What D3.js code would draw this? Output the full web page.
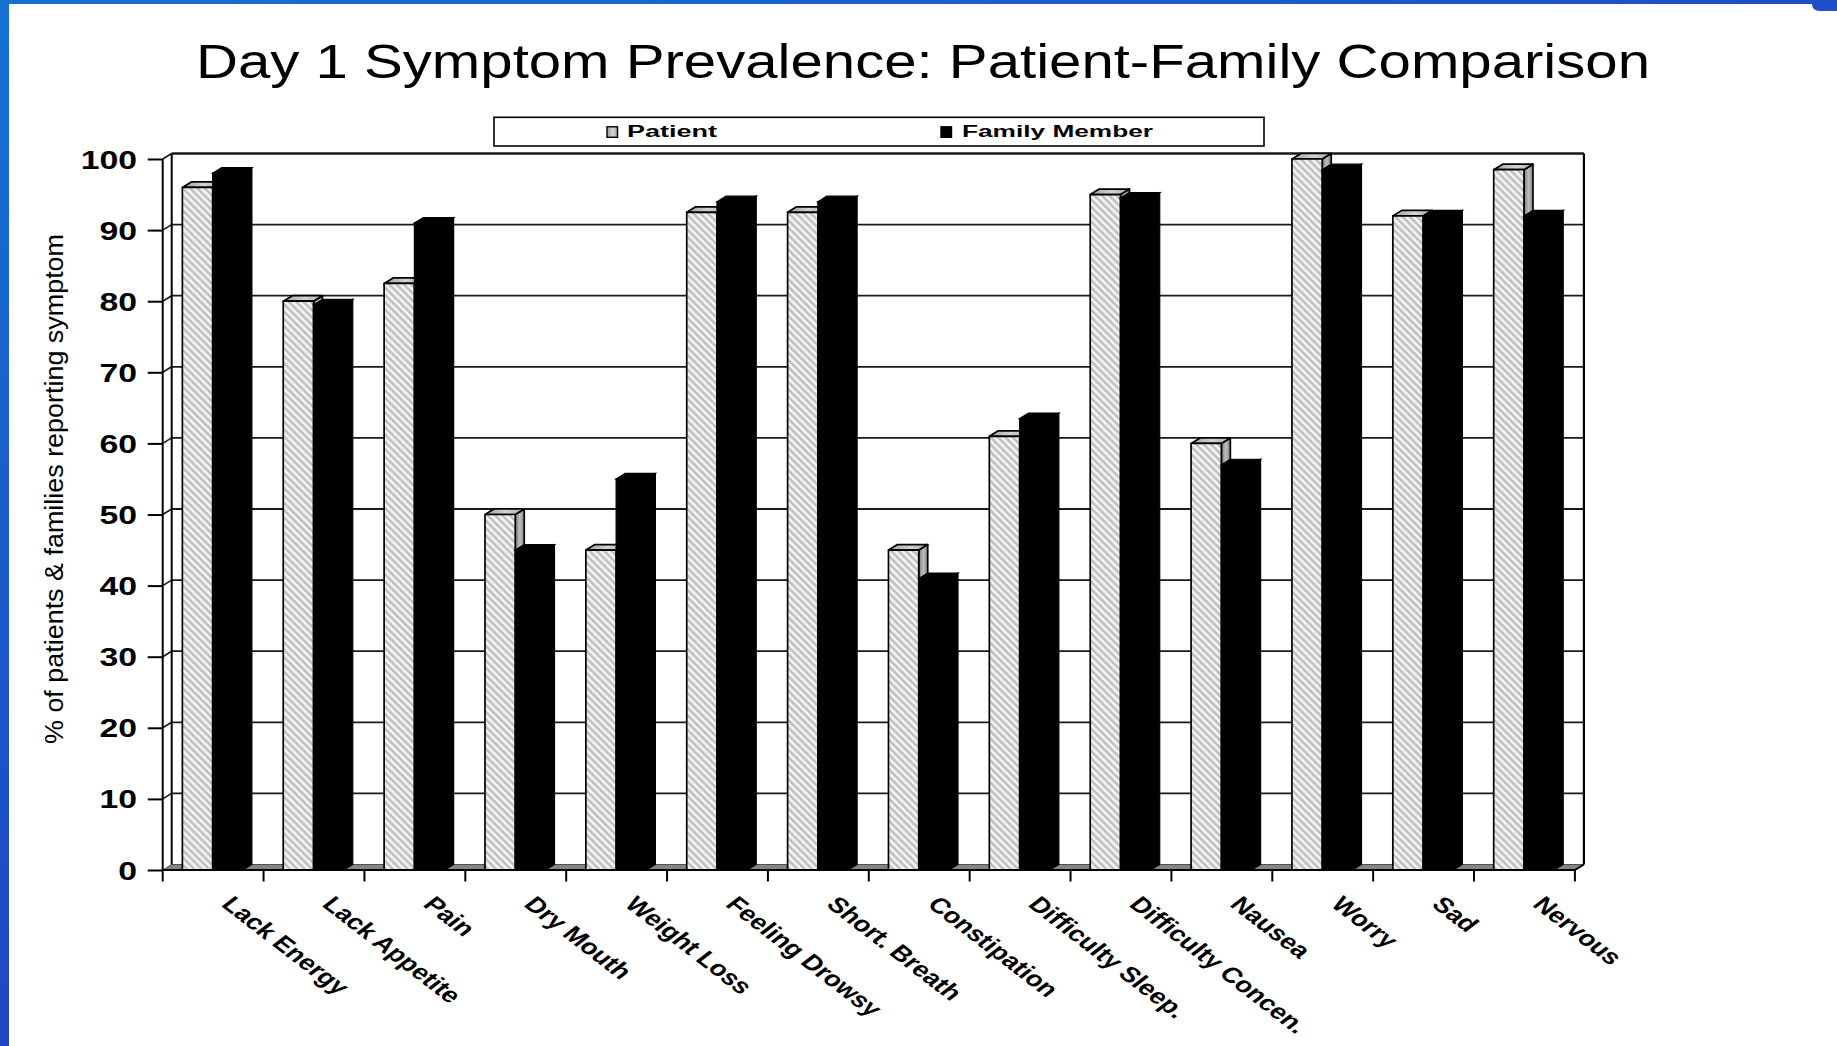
<!DOCTYPE html>
<html>
<head>
<meta charset="utf-8">
<script src="https://cdn.jsdelivr.net/npm/d3@7"></script>
<style>
  html, body { margin: 0; padding: 0; background: #ffffff; }
  svg { display: block; }
</style>
</head>
<body>
<svg id="chart" width="1837" height="1046"></svg>
<script>
// Symptom prevalence on day 1, patient vs. family member (% reporting)
const categories = ["Lack Energy", "Lack Appetite", "Pain", "Dry Mouth", "Weight Loss",
  "Feeling Drowsy", "Short. Breath", "Constipation", "Difficulty Sleep.",
  "Difficulty Concen.", "Nausea", "Worry", "Sad", "Nervous"];
const patientPct = [96, 80, 82.5, 50, 45, 92.5, 92.5, 45, 61, 95, 60, 100, 92, 98.5];
const familyPct  = [98, 79.5, 91, 45, 55, 94, 94, 41, 63.5, 94.5, 57, 98.5, 92, 92];
const yTicks = [0, 10, 20, 30, 40, 50, 60, 70, 80, 90, 100];
const seriesNames = ["Patient", "Family Member"];

const W = 1837, H = 1046;
const svg = d3.select("#chart");

// plot geometry (front plane) and the depth offset of the 3-D walls
const frontLeft = 162.7, frontRight = 1574.9;
const floorY = 870, topY = 159;
const dX = 9, dY = 5.5;

const x = d3.scaleBand().domain(categories).range([frontLeft, frontRight]).padding(0);
const y = d3.scaleLinear().domain([0, 100]).range([floorY, topY]);
const bw = x.bandwidth();
const barW = bw * 0.3;
const barOff = bw * 0.195;

// ---------- defs ----------
const defs = svg.append("defs");
const blueV = defs.append("linearGradient").attr("id", "blueV").attr("x1", 0).attr("y1", 0).attr("x2", 0).attr("y2", 1);
blueV.append("stop").attr("offset", "0%").attr("stop-color", "#1572d2");
blueV.append("stop").attr("offset", "100%").attr("stop-color", "#2046c6");
const blueH = defs.append("linearGradient").attr("id", "blueH").attr("x1", 0).attr("y1", 0).attr("x2", 1).attr("y2", 0);
blueH.append("stop").attr("offset", "0%").attr("stop-color", "#1572d2");
blueH.append("stop").attr("offset", "100%").attr("stop-color", "#1f4ec8");

const hatch = defs.append("pattern").attr("id", "hatch")
  .attr("patternUnits", "userSpaceOnUse").attr("width", 5.2).attr("height", 10)
  .attr("patternTransform", "rotate(-45)");
hatch.append("rect").attr("width", 5.2).attr("height", 10).attr("fill", "#f2f2f2");
hatch.append("rect").attr("width", 2.6).attr("height", 10).attr("fill", "#c2c2c2");

const topGrad = defs.append("linearGradient").attr("id", "topFace").attr("x1", 0).attr("y1", 0).attr("x2", 1).attr("y2", 0);
topGrad.append("stop").attr("offset", "0%").attr("stop-color", "#9c9c9c");
topGrad.append("stop").attr("offset", "55%").attr("stop-color", "#d4d4d4");
topGrad.append("stop").attr("offset", "100%").attr("stop-color", "#a8a8a8");
const sideGrad = defs.append("linearGradient").attr("id", "sideFace").attr("x1", 0).attr("y1", 0).attr("x2", 1).attr("y2", 0);
sideGrad.append("stop").attr("offset", "0%").attr("stop-color", "#7a7a7a");
sideGrad.append("stop").attr("offset", "50%").attr("stop-color", "#bdbdbd");
sideGrad.append("stop").attr("offset", "100%").attr("stop-color", "#858585");

// ---------- slide frame ----------
svg.append("rect").attr("x", 0).attr("y", 0).attr("width", W).attr("height", H).attr("fill", "#ffffff");
svg.append("rect").attr("x", 0).attr("y", 0).attr("width", 9).attr("height", H).attr("fill", "url(#blueV)");
svg.append("rect").attr("x", 0).attr("y", 0).attr("width", W).attr("height", 4).attr("fill", "url(#blueH)");
svg.append("path")
  .attr("d", `M1812,0 L${W},0 L${W},11 L1820,11 Q1812,11 1812,4 Z`)
  .attr("fill", "#1f4ec8");

// ---------- title ----------
svg.append("text")
  .attr("x", 196).attr("y", 77.5)
  .attr("font-family", "'Liberation Sans', Arial, sans-serif")
  .attr("font-size", 48)
  .attr("textLength", 1454).attr("lengthAdjust", "spacingAndGlyphs")
  .attr("fill", "#000")
  .text("Day 1 Symptom Prevalence: Patient-Family Comparison");

// ---------- legend ----------
const lg = svg.append("g");
lg.append("rect").attr("x", 494).attr("y", 117.3).attr("width", 770).attr("height", 28.7)
  .attr("fill", "#fff").attr("stroke", "#000").attr("stroke-width", 1.6);
const legendItems = [
  { name: seriesNames[0], sx: 607, tx: 627, len: 90, fill: "url(#topFace)" },
  { name: seriesNames[1], sx: 941, tx: 962, len: 191, fill: "#000" }
];
legendItems.forEach(d => {
  lg.append("rect").attr("x", d.sx).attr("y", 126.8).attr("width", 10.5).attr("height", 10.5)
    .attr("fill", d.fill).attr("stroke", "#000").attr("stroke-width", 1.4);
  lg.append("text").attr("x", d.tx).attr("y", 137.4)
    .attr("font-family", "'Liberation Sans', Arial, sans-serif")
    .attr("font-weight", "bold").attr("font-size", 16)
    .attr("textLength", d.len).attr("lengthAdjust", "spacingAndGlyphs")
    .text(d.name);
});

// ---------- walls and floor ----------
const plot = svg.append("g");
plot.append("rect")
  .attr("x", frontLeft + dX).attr("y", y(100) - dY)
  .attr("width", frontRight - frontLeft).attr("height", floorY - y(100))
  .attr("fill", "#fff");

// gridlines on the back wall plus their slanted continuation on the side wall
yTicks.filter(v => v > 0).forEach(v => {
  plot.append("line")
    .attr("x1", frontLeft + dX).attr("x2", frontRight + dX)
    .attr("y1", y(v) - dY).attr("y2", y(v) - dY)
    .attr("stroke", "#1a1a1a").attr("stroke-width", v === 100 ? 2.4 : 1.8);
  plot.append("line")
    .attr("x1", frontLeft).attr("x2", frontLeft + dX)
    .attr("y1", y(v)).attr("y2", y(v) - dY)
    .attr("stroke", "#1a1a1a").attr("stroke-width", 1.6);
});

// floor
plot.append("path")
  .attr("d", `M${frontLeft},${floorY} L${frontRight},${floorY} L${frontRight + dX},${floorY - dY} L${frontLeft + dX},${floorY - dY} Z`)
  .attr("fill", "#858585").attr("stroke", "#333").attr("stroke-width", 0.8);

// wall edges
plot.append("line").attr("x1", frontLeft + dX).attr("x2", frontLeft + dX)
  .attr("y1", y(100) - dY).attr("y2", floorY - dY).attr("stroke", "#000").attr("stroke-width", 2);
plot.append("line").attr("x1", frontRight + dX).attr("x2", frontRight + dX)
  .attr("y1", y(100) - dY).attr("y2", floorY - dY).attr("stroke", "#000").attr("stroke-width", 2.2);

// ---------- bars ----------
function barPaths(x0, w, v) {
  const yt = y(v), yb = floorY;
  return {
    front: `M${x0},${yt} L${x0 + w},${yt} L${x0 + w},${yb} L${x0},${yb} Z`,
    top: `M${x0},${yt} L${x0 + dX},${yt - dY} L${x0 + w + dX},${yt - dY} L${x0 + w},${yt} Z`,
    side: `M${x0 + w},${yt} L${x0 + w + dX},${yt - dY} L${x0 + w + dX},${yb - dY} L${x0 + w},${yb} Z`
  };
}

const bars = plot.append("g");
categories.forEach((c, i) => {
  const px = x(c) + barOff;
  const fx = px + barW;
  const p = barPaths(px, barW, patientPct[i]);
  const gp = bars.append("g").attr("stroke", "#000").attr("stroke-width", 1.7).attr("stroke-linejoin", "round");
  gp.append("path").attr("d", p.side).attr("fill", "url(#sideFace)");
  gp.append("path").attr("d", p.top).attr("fill", "url(#topFace)");
  gp.append("path").attr("d", p.front).attr("fill", "url(#hatch)");

  const f = barPaths(fx, barW, familyPct[i]);
  const gf = bars.append("g").attr("stroke", "#000").attr("stroke-width", 1.2).attr("fill", "#000");
  gf.append("path").attr("d", f.side);
  gf.append("path").attr("d", f.top);
  gf.append("path").attr("d", f.front);
});

// ---------- front axes ----------
plot.append("line").attr("x1", frontLeft).attr("x2", frontLeft)
  .attr("y1", y(100)).attr("y2", floorY).attr("stroke", "#000").attr("stroke-width", 2);

const yAxis = d3.axisLeft(y).tickValues(yTicks).tickSize(15).tickSizeOuter(0).tickFormat(d3.format("d"));
const gy = svg.append("g").attr("transform", `translate(${frontLeft},0)`).call(yAxis);
gy.select(".domain").remove();
gy.selectAll(".tick line").attr("stroke", "#000").attr("stroke-width", 2);
gy.selectAll(".tick text")
  .attr("x", null).attr("dy", "0.36em")
  .attr("transform", `translate(${137 - frontLeft},0) scale(1.35,1)`)
  .attr("text-anchor", "end")
  .attr("fill", "#000")
  .attr("font-family", "'Liberation Sans', Arial, sans-serif")
  .attr("font-weight", "bold").attr("font-size", 25);

// horizontal axis along the front edge of the floor
const xAxis = d3.axisBottom(x).tickSize(0).tickSizeOuter(0);
const gx = svg.append("g").attr("transform", `translate(0,${floorY})`).call(xAxis);
gx.select(".domain").attr("stroke", "#000").attr("stroke-width", 2.2)
  .attr("d", `M${frontLeft},0H${frontRight}`);
gx.selectAll(".tick text")
  .attr("y", null).attr("dy", null)
  .attr("transform", "translate(7,35.5) scale(1.3,1) rotate(45)")
  .attr("text-anchor", "start")
  .attr("fill", "#000")
  .attr("font-family", "'Liberation Sans', Arial, sans-serif")
  .attr("font-weight", "bold").attr("font-size", 21.5);

// category boundary ticks
const bounds = categories.map(c => x(c)).concat([frontRight]);
gx.selectAll(".bound").data(bounds).join("line").attr("class", "bound")
  .attr("x1", d => d).attr("x2", d => d).attr("y1", 0).attr("y2", 11.5)
  .attr("stroke", "#000").attr("stroke-width", 2);
gx.append("line").attr("x1", frontRight).attr("x2", frontRight + dX)
  .attr("y1", 0).attr("y2", -dY).attr("stroke", "#000").attr("stroke-width", 2);

// ---------- vertical axis title ----------
svg.append("text")
  .attr("transform", "translate(63,489) rotate(-90)")
  .attr("text-anchor", "middle")
  .attr("font-family", "'Liberation Sans', Arial, sans-serif")
  .attr("font-size", 25)
  .attr("textLength", 510).attr("lengthAdjust", "spacingAndGlyphs")
  .attr("fill", "#000")
  .text("% of patients & families reporting symptom");
</script>
</body>
</html>
